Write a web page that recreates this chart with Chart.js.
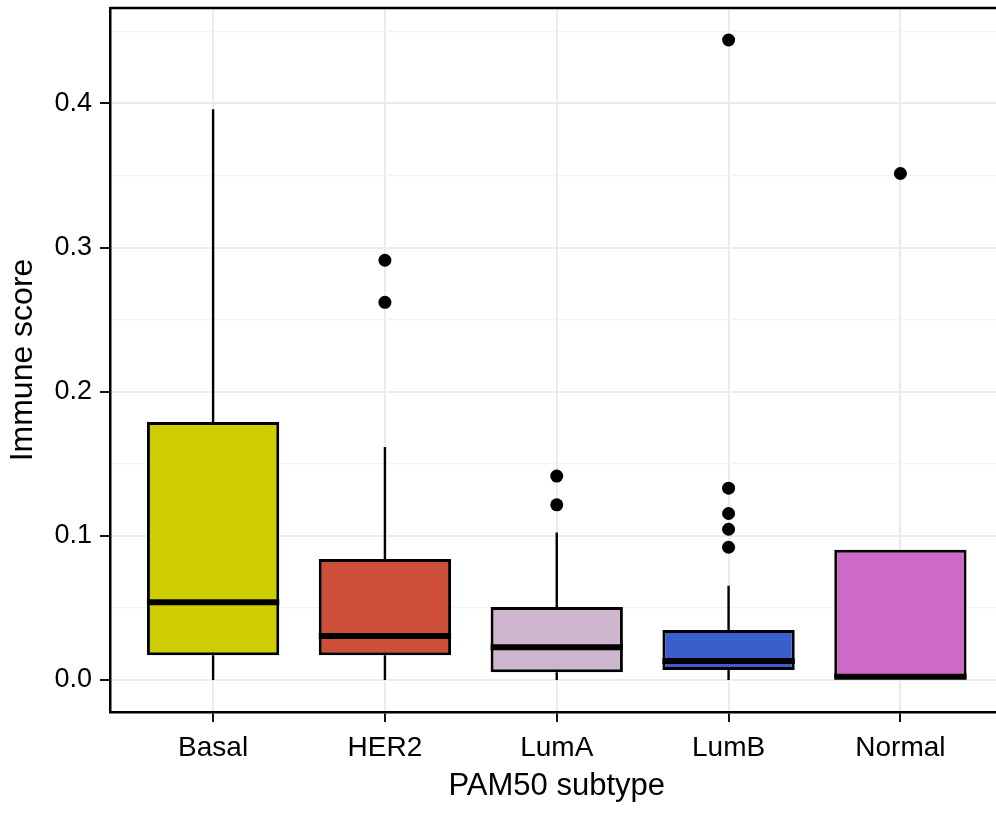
<!DOCTYPE html>
<html>
<head>
<meta charset="utf-8">
<script src="https://cdn.jsdelivr.net/npm/chart.js@4/dist/chart.umd.min.js"></script>
<style>
  html, body { margin: 0; padding: 0; background: #fff; overflow: hidden; }
  #wrap { width: 1010px; height: 814px; }
</style>
</head>
<body>
<div id="wrap"><canvas id="chart" width="1010" height="814"></canvas></div>
<script>
// PAM50 subtype vs immune score (box plot)
const categories = ['Basal', 'HER2', 'LumA', 'LumB', 'Normal'];
const boxColors = ['#CDCD00', '#CD4F39', '#CDB5CD', '#3A5FCD', '#CD69C9'];

const whiskerLow  = [0.0, 0.0, 0.0, 0.0, 0.0014];
const q1          = [0.0171, 0.0171, 0.0053, 0.0069, 0.0014];
const medians     = [0.0540, 0.0306, 0.0227, 0.0132, 0.0023];
const q3          = [0.1790, 0.0840, 0.0507, 0.0347, 0.0903];
const whiskerHigh = [0.3960, 0.1616, 0.1023, 0.0653, 0.0903];

// outliers: which subtype each point belongs to, and its value
const outlierGroup = ['HER2', 'HER2', 'LumA', 'LumA', 'LumB', 'LumB', 'LumB', 'LumB', 'LumB', 'Normal'];
const outlierValue = [0.2912, 0.2620, 0.1415, 0.1215, 0.4440, 0.1331, 0.1155, 0.1046, 0.0921, 0.3514];

const yTicks = [0, 0.05, 0.1, 0.15, 0.2, 0.25, 0.3, 0.35, 0.4, 0.45];
const yMin = -0.0222, yMax = 0.4662;

const FONT = "'Liberation Sans', Arial, Helvetica, sans-serif";
const isMajor = v => Math.abs(Math.round(v * 10) - v * 10) < 1e-6;

const boxExtras = {
  id: 'boxExtras',
  beforeDatasetsDraw(chart) {
    const { ctx } = chart;
    const x = chart.scales.x, y = chart.scales.y;
    ctx.save();
    ctx.strokeStyle = '#000';
    ctx.lineWidth = 2.4;
    categories.forEach((c, i) => {
      const px = x.getPixelForValue(i + 1);
      ctx.beginPath();
      ctx.moveTo(px, y.getPixelForValue(q3[i]));
      ctx.lineTo(px, y.getPixelForValue(whiskerHigh[i]));
      ctx.moveTo(px, y.getPixelForValue(q1[i]));
      ctx.lineTo(px, y.getPixelForValue(whiskerLow[i]));
      ctx.stroke();
    });
    ctx.restore();
  },
  afterDatasetsDraw(chart) {
    const { ctx, chartArea } = chart;
    const y = chart.scales.y;
    const bars = chart.getDatasetMeta(0).data;
    ctx.save();
    ctx.strokeStyle = '#000';
    ctx.lineWidth = 6;
    ctx.lineCap = 'butt';
    bars.forEach((bar, i) => {
      const py = y.getPixelForValue(medians[i]);
      ctx.beginPath();
      ctx.moveTo(bar.x - bar.width / 2, py);
      ctx.lineTo(bar.x + bar.width / 2, py);
      ctx.stroke();
    });
    // panel frame (top / right)
    ctx.lineWidth = 2.5;
    ctx.beginPath();
    ctx.moveTo(chartArea.left, chartArea.top);
    ctx.lineTo(chartArea.right, chartArea.top);
    ctx.lineTo(chartArea.right, chartArea.bottom);
    ctx.stroke();
    ctx.restore();
  }
};

new Chart(document.getElementById('chart'), {
  type: 'bar',
  data: {
    datasets: [
      {
        type: 'bar',
        data: categories.map((c, i) => ({ x: i + 1, y: [q1[i], q3[i]] })),
        backgroundColor: boxColors,
        borderColor: '#000',
        borderWidth: 3,
        borderSkipped: false,
        barPercentage: 0.77,
        categoryPercentage: 1,
        grouped: false,
        order: 2
      },
      {
        type: 'scatter',
        data: outlierValue.map((v, i) => ({ x: categories.indexOf(outlierGroup[i]) + 1, y: v })),
        pointRadius: 6.5,
        pointBackgroundColor: '#000',
        pointBorderWidth: 0,
        order: 1
      }
    ]
  },
  options: {
    responsive: false,
    animation: false,
    events: [],
    layout: { padding: { top: 8, right: 6, left: 0, bottom: 0 } },
    plugins: { legend: { display: false }, tooltip: { enabled: false } },
    scales: {
      x: {
        type: 'linear',
        min: 0.4,
        max: 5.6,
        offset: false,
        afterBuildTicks: s => { s.ticks = categories.map((c, i) => ({ value: i + 1 })); },
        afterFit: s => { s.height = 102; s.paddingLeft = 0; s.paddingRight = 0; },
        grid: { offset: false, color: '#ebebeb', lineWidth: 2, tickColor: '#111', tickLength: 10, tickWidth: 2 },
        border: { display: true, color: '#000', width: 2.5 },
        ticks: {
          autoSkip: false,
          maxRotation: 0,
          padding: 9,
          color: '#000',
          font: { family: FONT, size: 28 },
          callback: v => categories[Math.round(v) - 1]
        },
        title: {
          display: true,
          text: 'PAM50 subtype',
          color: '#000',
          font: { family: FONT, size: 31 },
          padding: { top: 0, bottom: 9 }
        }
      },
      y: {
        type: 'linear',
        min: yMin,
        max: yMax,
        afterBuildTicks: s => { s.ticks = yTicks.map(v => ({ value: v })); },
        afterFit: s => { s.width = 110; s.paddingTop = 0; s.paddingBottom = 0; },
        grid: {
          color: c => (c.tick && isMajor(c.tick.value)) ? '#ebebeb' : '#f3f3f3',
          lineWidth: c => (c.tick && isMajor(c.tick.value)) ? 2 : 1.3,
          tickColor: c => (c.tick && isMajor(c.tick.value)) ? '#111' : 'rgba(0,0,0,0)',
          tickLength: 10,
          tickWidth: 2
        },
        border: { display: true, color: '#000', width: 2.5 },
        ticks: {
          autoSkip: false,
          padding: 8,
          color: '#000',
          font: { family: FONT, size: 27 },
          callback: v => isMajor(v) ? v.toFixed(1) : ''
        },
        title: {
          display: true,
          text: 'Immune score',
          color: '#000',
          font: { family: FONT, size: 32 },
          padding: { top: 4, bottom: 4 }
        }
      }
    }
  },
  plugins: [boxExtras]
});
</script>
</body>
</html>
